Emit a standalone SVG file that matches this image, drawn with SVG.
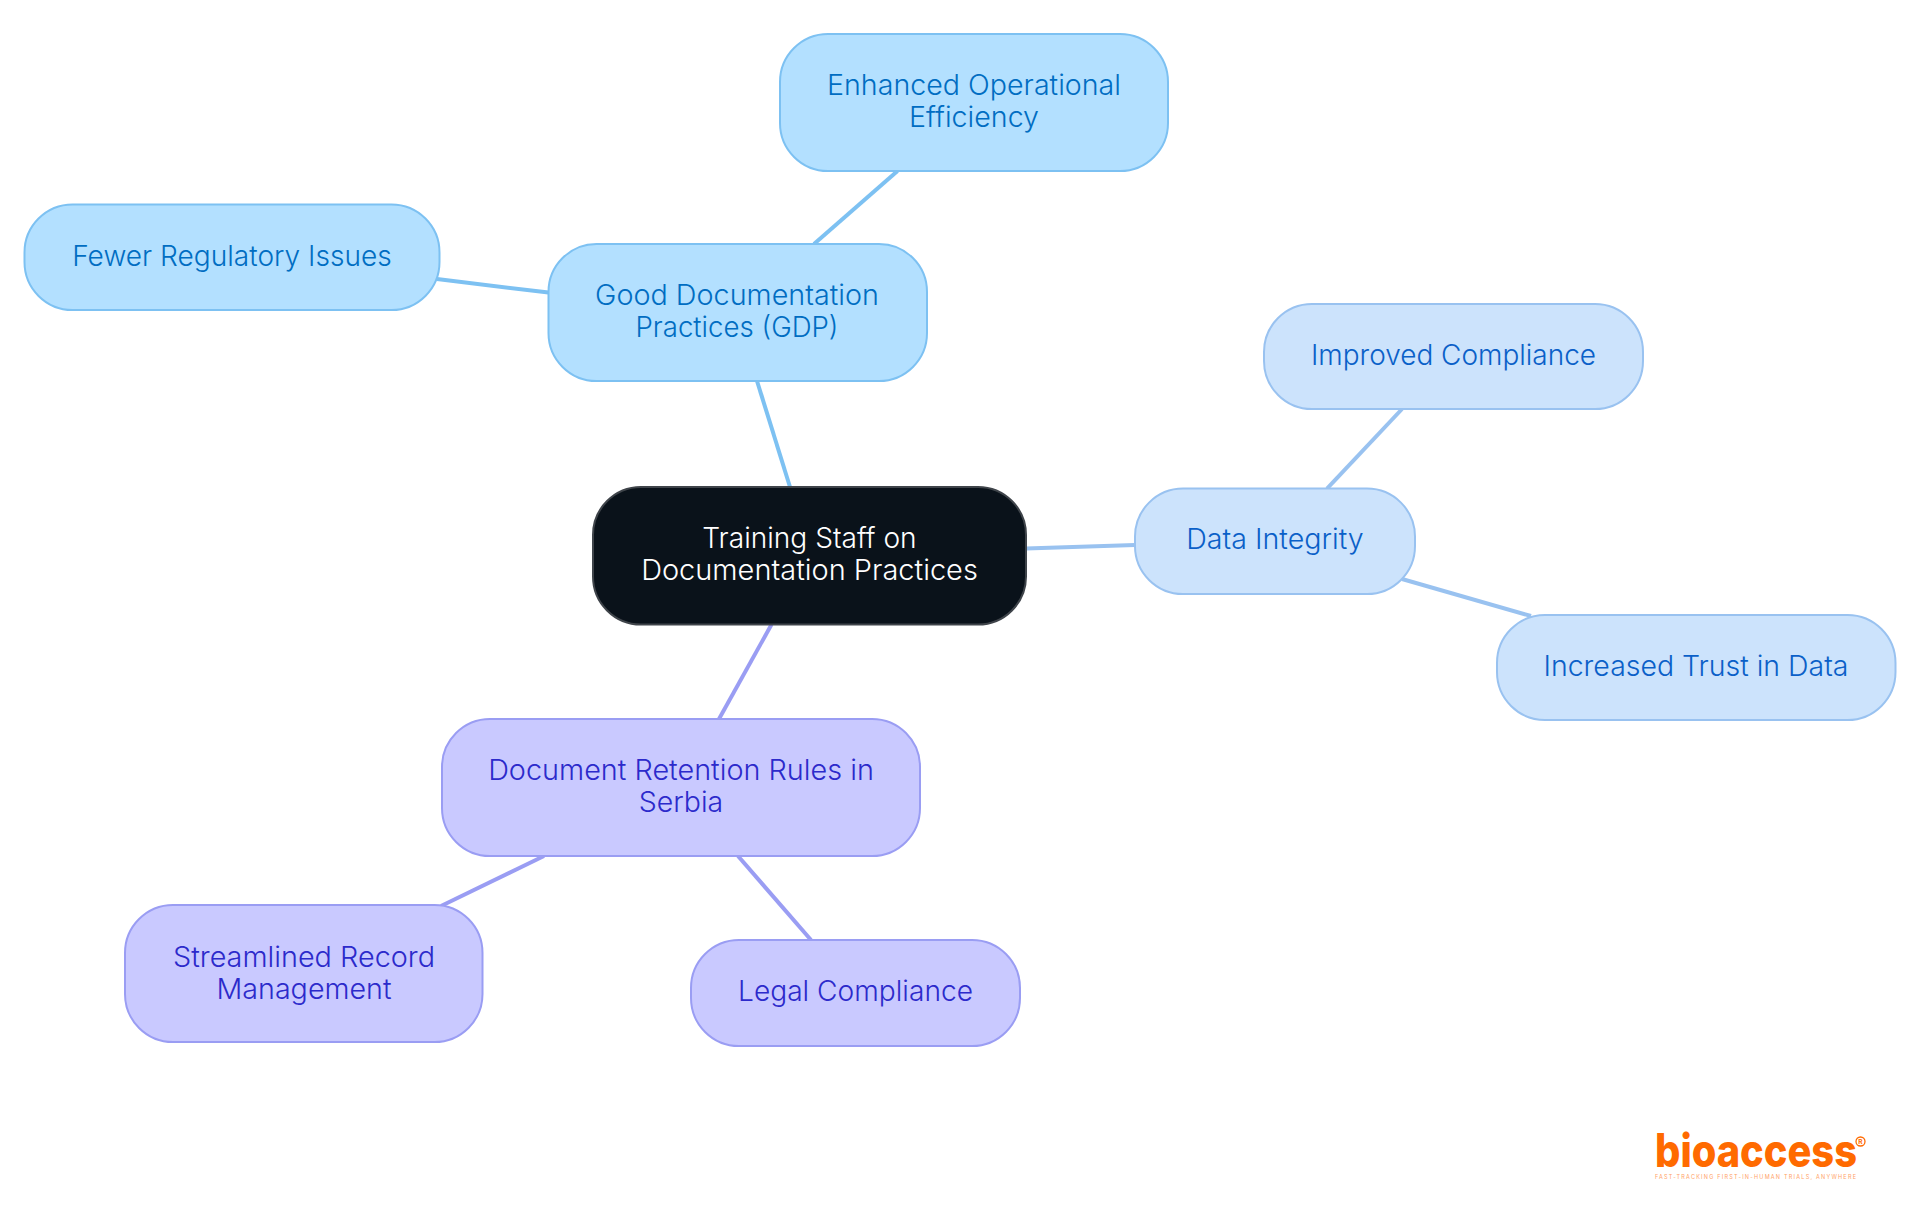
<svg xmlns="http://www.w3.org/2000/svg" width="1920" height="1215" viewBox="0 0 1920 1215">
<style>
text{font-family:"Inter","Noto Sans",sans-serif;font-size:28px;text-anchor:middle;font-weight:350}
.edge{fill:none;stroke-width:4}
.e1{stroke:#7dc1f2}.e2{stroke:#99c2f0}.e3{stroke:#9a9df3}
.n{stroke-width:2}
.n1 rect{fill:#b3e0ff;stroke:#7dc1f2}.n1 text{fill:#006dc2}
.n2 rect{fill:#cce3fc;stroke:#99c2f0}.n2 text{fill:#0a60c8}
.n3 rect{fill:#c9c9ff;stroke:#9a9df3}.n3 text{fill:#2c2acb}
.n0 rect{fill:#0a121a;stroke:#3f444a}.n0 text{fill:#fff}
</style>
<rect width="1920" height="1215" fill="#fff"/>
<g id="connectors">
<line class="edge e1" x1="757" y1="381" x2="790" y2="487"/>
<line class="edge e1" x1="814" y1="244" x2="897.500" y2="171"/>
<line class="edge e1" x1="548.500" y1="292.600" x2="437" y2="279"/>
<line class="edge e2" x1="1026" y1="548.500" x2="1135" y2="545"/>
<line class="edge e2" x1="1327" y1="488.600" x2="1402" y2="409"/>
<line class="edge e2" x1="1402" y1="579" x2="1531" y2="616"/>
<line class="edge e3" x1="771.500" y1="624.500" x2="719" y2="719"/>
<line class="edge e3" x1="544" y1="856" x2="441" y2="906"/>
<line class="edge e3" x1="738" y1="856" x2="811" y2="940"/>
</g>
<g id="root" class="n n0"><rect x="593" y="487" width="433" height="137.500" rx="48"/><text x="809.500" y="548" textLength="214.300" lengthAdjust="spacingAndGlyphs">Training Staff on</text><text x="809.500" y="580" textLength="336.700" lengthAdjust="spacingAndGlyphs">Documentation Practices</text></g>
<g id="gdp" class="n n1"><rect x="548.500" y="244" width="378.500" height="137" rx="48"/><text x="737" y="305" textLength="284" lengthAdjust="spacingAndGlyphs">Good Documentation</text><text x="737" y="337" textLength="203" lengthAdjust="spacingAndGlyphs">Practices (GDP)</text></g>
<g id="enhanced" class="n n1"><rect x="780" y="34" width="388" height="137" rx="48"/><text x="974" y="95" textLength="294" lengthAdjust="spacingAndGlyphs">Enhanced Operational</text><text x="974" y="127" textLength="130" lengthAdjust="spacingAndGlyphs">Efficiency</text></g>
<g id="fewer" class="n n1"><rect x="24.500" y="204.500" width="415" height="105.500" rx="48"/><text x="232" y="266" textLength="319.600" lengthAdjust="spacingAndGlyphs">Fewer Regulatory Issues</text></g>
<g id="data" class="n n2"><rect x="1135" y="488.600" width="280" height="105.400" rx="48"/><text x="1275" y="549" textLength="177.500" lengthAdjust="spacingAndGlyphs">Data Integrity</text></g>
<g id="improved" class="n n2"><rect x="1264" y="304" width="379" height="105" rx="48"/><text x="1453.500" y="365" textLength="285" lengthAdjust="spacingAndGlyphs">Improved Compliance</text></g>
<g id="increased" class="n n2"><rect x="1497" y="615" width="398.500" height="105" rx="48"/><text x="1696" y="676" textLength="305" lengthAdjust="spacingAndGlyphs">Increased Trust in Data</text></g>
<g id="retention" class="n n3"><rect x="442" y="719" width="478" height="137" rx="48"/><text x="681" y="780" textLength="385.700" lengthAdjust="spacingAndGlyphs">Document Retention Rules in</text><text x="681" y="812" textLength="84.500" lengthAdjust="spacingAndGlyphs">Serbia</text></g>
<g id="streamlined" class="n n3"><rect x="125" y="905" width="357.500" height="137" rx="48"/><text x="304" y="967" textLength="262" lengthAdjust="spacingAndGlyphs">Streamlined Record</text><text x="304" y="999" textLength="175" lengthAdjust="spacingAndGlyphs">Management</text></g>
<g id="legal" class="n n3"><rect x="691" y="940" width="329" height="106" rx="48"/><text x="855.500" y="1001" textLength="235" lengthAdjust="spacingAndGlyphs">Legal Compliance</text></g>
<g id="logo">
<text x="1756" y="1166.500" textLength="202" lengthAdjust="spacingAndGlyphs" style="font-size:46px;font-weight:800;fill:#ff6a00;font-family:'Inter','Liberation Sans',sans-serif">bioaccess</text>
<circle cx="1860.500" cy="1141.500" r="4.500" fill="none" stroke="#ff6a00" stroke-width="1.300"/>
<text x="1860.500" y="1144" style="font-size:6.500px;font-weight:700;fill:#ff6a00">R</text>
<text x="1755.500" y="1179" textLength="201" style="font-size:5.500px;font-weight:400;fill:#ffa266">FAST-TRACKING FIRST-IN-HUMAN TRIALS, ANYWHERE</text>
</g>
</svg>
